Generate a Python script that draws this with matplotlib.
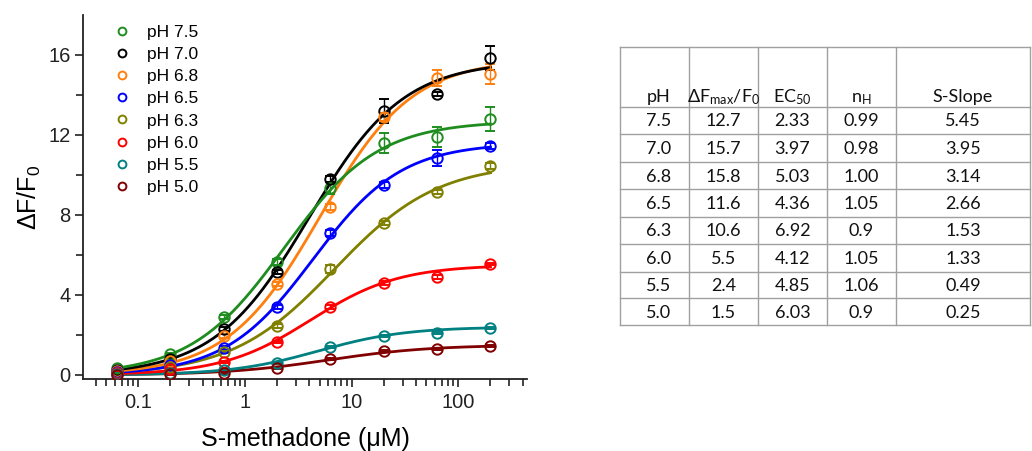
import numpy as np
import matplotlib
matplotlib.use("Agg")
import matplotlib.pyplot as plt

# ---- data -------------------------------------------------------------
conc = [0.0632, 0.2, 0.632, 2.0, 6.32, 20.0, 63.2, 200.0]  # S-methadone (uM)

ph_labels = ["pH 7.5", "pH 7.0", "pH 6.8", "pH 6.5", "pH 6.3", "pH 6.0", "pH 5.5", "pH 5.0"]
colors = ["#1e8c1e", "#000000", "#ff7f0e", "#0000ff", "#808000", "#ff0000", "#008080", "#800000"]

resp_75 = [0.33, 1.05, 2.90, 5.67, 9.33, 11.58, 11.88, 12.78]
resp_70 = [0.25, 0.80, 2.30, 5.13, 9.80, 13.20, 14.05, 15.87]
resp_68 = [0.20, 0.72, 1.95, 4.53, 8.42, 12.88, 14.83, 15.05]
resp_65 = [0.15, 0.50, 1.37, 3.42, 7.08, 9.50, 10.87, 11.47]
resp_63 = [0.12, 0.40, 1.13, 2.47, 5.28, 7.58, 9.13, 10.45]
resp_60 = [0.10, 0.30, 0.67, 1.67, 3.42, 4.62, 4.92, 5.53]
resp_55 = [0.05, 0.10, 0.25, 0.58, 1.38, 1.95, 2.12, 2.37]
resp_50 = [0.02, 0.05, 0.12, 0.33, 0.78, 1.20, 1.30, 1.47]

err_75 = [0.05, 0.05, 0.10, 0.15, 0.30, 0.50, 0.50, 0.60]
err_70 = [0.05, 0.05, 0.10, 0.10, 0.15, 0.60, 0.10, 0.60]
err_68 = [0.05, 0.05, 0.10, 0.10, 0.15, 0.20, 0.40, 0.50]
err_65 = [0.05, 0.05, 0.10, 0.10, 0.15, 0.15, 0.40, 0.15]
err_63 = [0.05, 0.05, 0.05, 0.10, 0.20, 0.10, 0.10, 0.15]
err_60 = [0.05, 0.05, 0.05, 0.05, 0.10, 0.10, 0.10, 0.05]
err_55 = [0.05, 0.05, 0.05, 0.05, 0.05, 0.05, 0.05, 0.05]
err_50 = [0.05, 0.05, 0.05, 0.05, 0.05, 0.05, 0.05, 0.05]

responses = [resp_75, resp_70, resp_68, resp_65, resp_63, resp_60, resp_55, resp_50]
errors = [err_75, err_70, err_68, err_65, err_63, err_60, err_55, err_50]

# Hill fit parameters
table_ph = ["7.5", "7.0", "6.8", "6.5", "6.3", "6.0", "5.5", "5.0"]
fmax = [12.7, 15.7, 15.8, 11.6, 10.6, 5.5, 2.4, 1.5]
ec50 = [2.33, 3.97, 5.03, 4.36, 6.92, 4.12, 4.85, 6.03]
n_hill = [0.99, 0.98, 1.00, 1.05, 0.9, 1.05, 1.06, 0.9]
s_slope = [5.45, 3.95, 3.14, 2.66, 1.53, 1.33, 0.49, 0.25]
fmax_txt = ["12.7", "15.7", "15.8", "11.6", "10.6", "5.5", "2.4", "1.5"]
ec50_txt = ["2.33", "3.97", "5.03", "4.36", "6.92", "4.12", "4.85", "6.03"]
nh_txt = ["0.99", "0.98", "1.00", "1.05", "0.9", "1.05", "1.06", "0.9"]
slope_txt = ["5.45", "3.95", "3.14", "2.66", "1.53", "1.33", "0.49", "0.25"]

# ---- figure -----------------------------------------------------------
plt.rcParams["font.family"] = ["Liberation Sans", "DejaVu Sans"]
plt.rcParams["mathtext.default"] = "regular"

W, H = 1032, 451
fig = plt.figure(figsize=(W / 100, H / 100), dpi=100)

def px_box(x0, y0, x1, y1):
    return [x0 / W, 1 - y1 / H, (x1 - x0) / W, (y1 - y0) / H]

ax = fig.add_axes(px_box(83, 15, 527, 379))

xfit = np.logspace(np.log10(conc[0]), np.log10(conc[-1]), 300)
for i in range(len(ph_labels)):
    c = colors[i]
    yfit = fmax[i] * xfit ** n_hill[i] / (ec50[i] ** n_hill[i] + xfit ** n_hill[i])
    ax.plot(xfit, yfit, color=c, lw=2.0, zorder=3 + (8 - i) * 0.01)
    ax.errorbar(conc, responses[i], yerr=errors[i], fmt="o", color=c,
                mfc="none", mec=c, mew=1.4, ms=7.5, elinewidth=1.0, capsize=3.5,
                capthick=1.0, label=ph_labels[i], zorder=4)

ax.set_xscale("log")
ax.set_xlim(0.0303, 440)
ax.set_ylim(-0.2, 18)
ax.set_yticks([0, 4, 8, 12, 16])
ax.set_yticks([2, 6, 10, 14], minor=True)
ax.xaxis.set_major_formatter(matplotlib.ticker.FuncFormatter(lambda v, p: f"{v:g}"))
ax.xaxis.set_minor_locator(matplotlib.ticker.LogLocator(base=10, subs=np.arange(2, 10)))
ax.xaxis.set_minor_formatter(matplotlib.ticker.NullFormatter())
for s in ("top", "right"):
    ax.spines[s].set_visible(False)
for s in ("left", "bottom"):
    ax.spines[s].set_linewidth(1.3)
    ax.spines[s].set_color("#222222")
ax.tick_params(which="both", direction="out", width=1.2, colors="#222222", labelsize=14.5)
ax.tick_params(which="major", length=6)
ax.tick_params(which="minor", length=5)
ax.tick_params(axis="x", which="major", pad=4)
ax.tick_params(axis="y", which="major", pad=3)

ax.set_xlabel("S-methadone (μM)", fontsize=18, labelpad=11)
ax.set_ylabel("ΔF/F$_0$", fontsize=18, labelpad=4)

handles, labels = ax.get_legend_handles_labels()
handles = [h[0] for h in handles]
leg = ax.legend(handles, labels, loc="upper left", bbox_to_anchor=(0.042, 1.006),
                frameon=False, fontsize=12.5, markerscale=0.75, handlelength=1.0,
                handletextpad=0.9, labelspacing=0.40, borderaxespad=0.3)

# ---- parameter table ----------------------------------------------------
tab = fig.add_axes(px_box(610, 40, 1032, 332))
tab.set_xlim(610, 1032)
tab.set_ylim(332, 40)
tab.axis("off")

col_edges = [620, 689, 758, 827, 896, 1030]
row_edges = [47, 106.7, 134.3, 161.7, 189.3, 216.7, 244, 271.7, 298.3, 325]
line_kw = dict(color="#a0a0a0", lw=1.0)
for x in col_edges:
    tab.plot([x, x], [row_edges[0], row_edges[-1]], **line_kw)
for y in row_edges:
    tab.plot([col_edges[0], col_edges[-1]], [y, y], **line_kw)

tfont = dict(family=["Lato", "DejaVu Sans"], fontsize=13, color="#111111")
headers = ["pH", "ΔF$_{max}$/F$_0$", "EC$_{50}$", "n$_H$", "S-Slope"]
centers = [(col_edges[k] + col_edges[k + 1]) / 2 for k in range(5)]
centers[0] += 4
for k, htxt in enumerate(headers):
    tab.text(centers[k], 102, htxt, ha="center", va="baseline", **tfont)

columns = [table_ph, fmax_txt, ec50_txt, nh_txt, slope_txt]
for r in range(len(table_ph)):
    ymid = (row_edges[r + 1] + row_edges[r + 2]) / 2
    for k in range(5):
        tab.text(centers[k], ymid + 1, columns[k][r], ha="center", va="center", **tfont)

fig.savefig("out.png", dpi=100)
